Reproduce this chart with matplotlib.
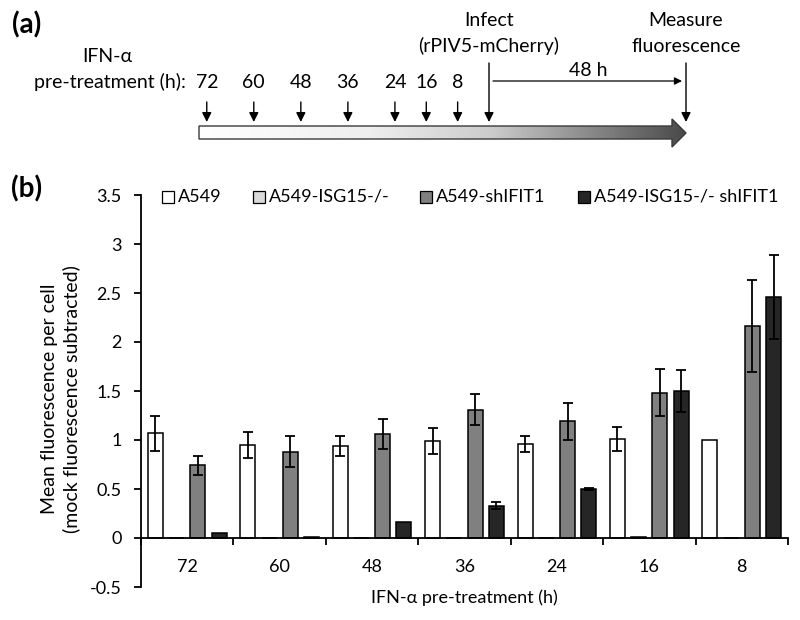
import numpy as np
import matplotlib
matplotlib.use("Agg")
import matplotlib.pyplot as plt
from matplotlib.patches import Polygon, Rectangle
from matplotlib.colors import LinearSegmentedColormap

plt.rcParams['font.family'] = ['Lato', 'DejaVu Sans']
plt.rcParams['font.size'] = 13

# ---------------- data ----------------
categories = ["72", "60", "48", "36", "24", "16", "8"]
hours = [72, 60, 48, 36, 24, 16, 8]
series_names = ["A549", "A549-ISG15-/-", "A549-shIFIT1", "A549-ISG15-/- shIFIT1"]
series_colors = ["#ffffff", "#d9d9d9", "#808080", "#262626"]

a549 = [1.07, 0.95, 0.94, 0.99, 0.96, 1.01, 1.00]
a549_err = [0.18, 0.13, 0.10, 0.13, 0.08, 0.12, np.nan]
isg15 = [0.0, 0.0, 0.0, 0.0, 0.0, 0.006, 0.0]
isg15_err = [np.nan] * 7
shifit1 = [0.74, 0.88, 1.06, 1.31, 1.19, 1.48, 2.16]
shifit1_err = [0.10, 0.16, 0.15, 0.16, 0.19, 0.24, 0.47]
isg15_shifit1 = [0.05, 0.006, 0.16, 0.33, 0.50, 1.50, 2.46]
isg15_shifit1_err = [np.nan, np.nan, np.nan, 0.035, 0.01, 0.21, 0.43]

values = [a549, isg15, shifit1, isg15_shifit1]
errors = [a549_err, isg15_err, shifit1_err, isg15_shifit1_err]

ylabel_text = "Mean fluorescence per cell\n(mock fluorescence subtracted)"
xlabel_text = "IFN-α pre-treatment (h)"
yticks = [-0.5, 0, 0.5, 1, 1.5, 2, 2.5, 3, 3.5]

# ---------------- figure ----------------
fig = plt.figure(figsize=(8, 6.2), dpi=100)
W, H = 800, 620

ax = fig.add_axes([141 / W, (H - 587) / H, (788 - 141) / W, (587 - 195) / H])
x = np.arange(len(categories))
slot = 0.23
bw = 0.162
for i, (vals, errs, col) in enumerate(zip(values, errors, series_colors)):
    pos = x + (i - 1.5) * slot
    ax.bar(pos, vals, width=bw, color=col, edgecolor="black", linewidth=1.1, zorder=2)
    errs = np.array(errs, dtype=float)
    m = ~np.isnan(errs)
    if m.any():
        ax.errorbar(pos[m], np.array(vals)[m], yerr=errs[m], fmt="none",
                    ecolor="black", elinewidth=1.3, capsize=3.6, capthick=1.3, zorder=3)

ax.set_xlim(-0.5, len(categories) - 0.5)
ax.set_ylim(-0.5, 3.5)
ax.set_yticks(yticks)
ax.set_yticklabels([f"{t:g}" for t in yticks])
ax.spines["top"].set_visible(False)
ax.spines["right"].set_visible(False)
ax.spines["bottom"].set_position(("data", 0))
ax.spines["left"].set_linewidth(1.3)
ax.spines["bottom"].set_linewidth(1.3)
ax.set_xticks(np.arange(len(categories) + 1) - 0.5)
ax.set_xticklabels([])
ax.set_xticks(x, minor=True)
ax.set_xticklabels(categories, minor=True)
ax.tick_params(axis="x", which="major", direction="out", length=5, width=1.3)
ax.tick_params(axis="x", which="minor", length=0, pad=15)
ax.tick_params(axis="y", direction="out", length=5, width=1.3, pad=9)

ax.set_xlabel(xlabel_text)
ax.xaxis.set_label_coords(0.5, -0.028)
ax.xaxis.label.set_va("center")
ax.set_ylabel(ylabel_text, fontsize=14, linespacing=1.3)
ax.yaxis.set_label_coords(-0.124, 0.48)
ax.yaxis.label.set_va("center")
ax.yaxis.label.set_ha("center")

# ---------------- overlay in pixel space ----------------
ov = fig.add_axes([0, 0, 1, 1], zorder=5)
ov.set_xlim(0, W)
ov.set_ylim(H, 0)
ov.axis("off")
ov.patch.set_alpha(0)

ov.text(27, 25, "(a)", fontsize=20, fontweight="bold", ha="center", va="center")
ov.text(27, 189, "(b)", fontsize=20, fontweight="bold", ha="center", va="center")

# legend
leg_x = [162, 253, 420, 578]
for lx, name, col in zip(leg_x, series_names, series_colors):
    ov.add_patch(Rectangle((lx, 191), 12, 12, facecolor=col, edgecolor="black", linewidth=0.9))
    ov.text(lx + 16, 197, name, ha="left", va="center")

# panel (a) diagram
fa = 14
infect_x = 489
px_per_h = 3.92
measure_x = 686
ov.text(107, 57, "IFN-α", fontsize=fa, ha="center", va="center")
ov.text(186, 82, "pre-treatment (h):", fontsize=fa, ha="right", va="center")
aprops = dict(arrowstyle="-|>", color="black", lw=1.0, mutation_scale=14, shrinkA=0, shrinkB=0)
for h, lab in zip(hours, categories):
    xx = infect_x - px_per_h * h
    ov.text(xx, 82, lab, fontsize=fa, ha="center", va="center")
    ov.annotate("", xy=(xx, 122), xytext=(xx, 102), arrowprops=aprops)

ov.text(infect_x, 20, "Infect", fontsize=fa, ha="center", va="center")
ov.text(infect_x, 46, "(rPIV5-mCherry)", fontsize=fa, ha="center", va="center")
ov.annotate("", xy=(infect_x, 122), xytext=(infect_x, 63), arrowprops=aprops)
ov.text(measure_x, 20, "Measure", fontsize=fa, ha="center", va="center")
ov.text(measure_x, 46, "fluorescence", fontsize=fa, ha="center", va="center")
ov.annotate("", xy=(measure_x, 122), xytext=(measure_x, 63), arrowprops=aprops)
ov.annotate("", xy=(682, 81), xytext=(493, 81),
            arrowprops=dict(arrowstyle="-|>", color="black", lw=0.9, mutation_scale=11,
                            shrinkA=0, shrinkB=0))
ov.text(588, 71, "48 h", fontsize=fa, ha="center", va="center")

# gradient arrow
verts = [(199, 126), (672, 126), (672, 119), (686, 133), (672, 147), (672, 139), (199, 139)]
poly = Polygon(verts, closed=True, facecolor="none", edgecolor="#3a3a3a", linewidth=1.0, zorder=3)
cmap = LinearSegmentedColormap.from_list(
    "g", [(0, "#ffffff"), (0.35, "#eeeeee"), (0.6, "#cccccc"), (1.0, "#4a4a4a")])
grad = np.linspace(0, 1, 256).reshape(1, -1)
im = ov.imshow(grad, cmap=cmap, extent=[199, 686, 147, 119], aspect="auto", zorder=2)
clip = Polygon(verts, closed=True, transform=ov.transData, facecolor="none", edgecolor="none")
ov.add_patch(clip)
im.set_clip_path(clip)
ov.add_patch(poly)
ov.set_xlim(0, W)
ov.set_ylim(H, 0)

fig.savefig("out.png", dpi=100)
